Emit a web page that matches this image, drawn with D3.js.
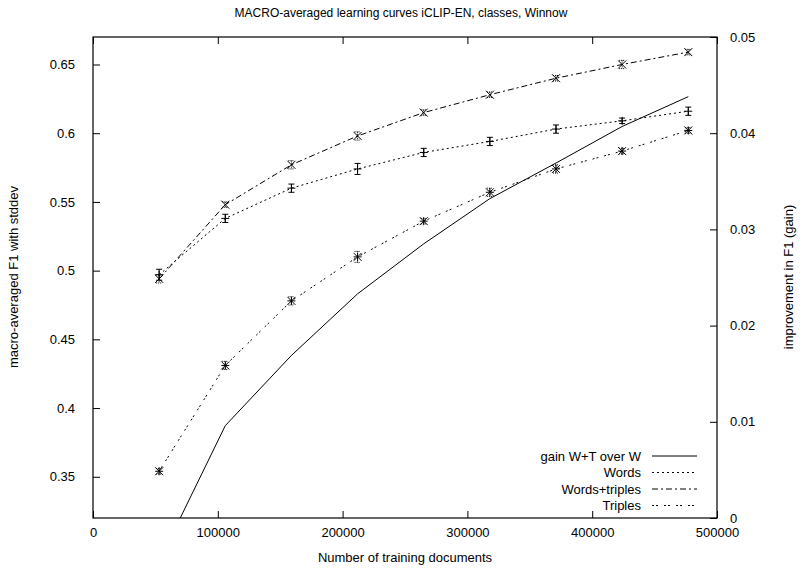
<!DOCTYPE html>
<html>
<head>
<meta charset="utf-8">
<script src="https://cdn.jsdelivr.net/npm/d3@7"></script>
<style>
body { margin: 0; background: #fff; }
text { font-family: "Liberation Sans", Arial, sans-serif; font-size: 13px; fill: #000; }
</style>
</head>
<body>
<div id="chart"></div>
<script>
// training set sizes
var docs = [53000, 106000, 159000, 212000, 265000, 318000, 371000, 424000, 477000];
// macro F1 per run
var words        = [0.497, 0.538, 0.560, 0.574, 0.586, 0.594, 0.603, 0.609, 0.616];
var wordsErr     = [0.004, 0.003, 0.003, 0.004, 0.003, 0.003, 0.003, 0.002, 0.003];
var wordsTriples = [0.494, 0.548, 0.577, 0.598, 0.615, 0.628, 0.640, 0.650, 0.659];
var wtErr        = [0.003, 0.002, 0.003, 0.003, 0.002, 0.002, 0.002, 0.003, 0.002];
var triples      = [0.354, 0.431, 0.478, 0.510, 0.536, 0.557, 0.574, 0.587, 0.602];
var triplesErr   = [0.002, 0.003, 0.003, 0.004, 0.002, 0.003, 0.003, 0.002, 0.002];
// gain W+T over W (right axis)
var gain = [-0.0045, 0.0096, 0.0169, 0.0233, 0.0285, 0.0332, 0.0369, 0.0407, 0.0438];

var xTicks = [0, 100000, 200000, 300000, 400000, 500000];
var yTicks = [0.35, 0.4, 0.45, 0.5, 0.55, 0.6, 0.65];
var y2Ticks = [0, 0.01, 0.02, 0.03, 0.04, 0.05];

var W = 802, H = 570;
// plot box (window.top is reserved, so prefixed names)
var pLeft = 93, pRight = 717, pTop = 37, pBottom = 518;

var svg = d3.select("#chart").append("svg").attr("width", W).attr("height", H);

var x = d3.scaleLinear().domain([0, 500000]).range([pLeft, pRight]);
var y = d3.scaleLinear().domain([0.32, 0.67]).range([pBottom, pTop]);
var y2 = d3.scaleLinear().domain([0, 0.05]).range([pBottom, pTop]);

svg.append("defs").append("clipPath").attr("id", "clip")
  .append("rect").attr("x", pLeft).attr("y", pTop).attr("width", pRight - pLeft).attr("height", pBottom - pTop);

// axes, ticks pointing inward
svg.append("g").attr("transform", "translate(0," + pBottom + ")")
  .call(d3.axisBottom(x).tickValues(xTicks).tickFormat(d3.format("d")).tickSizeInner(-7).tickSizeOuter(0).tickPadding(10));
svg.append("g").attr("transform", "translate(0," + pTop + ")")
  .call(d3.axisTop(x).tickValues(xTicks).tickFormat("").tickSizeInner(-7).tickSizeOuter(0));
svg.append("g").attr("transform", "translate(" + pLeft + ",0)")
  .call(d3.axisLeft(y).tickValues(yTicks).tickFormat(d3.format("~g")).tickSizeInner(-7).tickSizeOuter(0).tickPadding(18));
svg.append("g").attr("transform", "translate(" + pRight + ",0)")
  .call(d3.axisRight(y2).tickValues(y2Ticks).tickFormat(d3.format("~g")).tickSizeInner(-7).tickSizeOuter(0).tickPadding(13));
svg.selectAll(".domain").remove();
svg.selectAll(".tick line").attr("stroke", "#000");
svg.selectAll(".tick text").style("font-family", "Liberation Sans, Arial, sans-serif").style("font-size", "13px");

svg.append("rect").attr("x", pLeft).attr("y", pTop).attr("width", pRight - pLeft).attr("height", pBottom - pTop)
  .attr("fill", "none").attr("stroke", "#000").attr("stroke-width", 1.2);

// titles
svg.append("text").attr("x", 401).attr("y", 17).attr("text-anchor", "middle").style("font-size", "12px")
  .text("MACRO-averaged learning curves iCLIP-EN, classes, Winnow");
svg.append("text").attr("x", 405).attr("y", 562).attr("text-anchor", "middle")
  .text("Number of training documents");
svg.append("text").attr("transform", "translate(18,277) rotate(-90)").attr("text-anchor", "middle")
  .text("macro-averaged F1 with stddev");
svg.append("text").attr("transform", "translate(793,277) rotate(-90)").attr("text-anchor", "middle")
  .text("improvement in F1 (gain)");

var plot = svg.append("g").attr("clip-path", "url(#clip)");

var series = [
  {name: "gain W+T over W", vals: gain, err: null, sc: y2, dash: null, mark: null},
  {name: "Words", vals: words, err: wordsErr, sc: y, dash: "2,3", mark: "plus"},
  {name: "Words+triples", vals: wordsTriples, err: wtErr, sc: y, dash: "6,3,2,3", mark: "cross"},
  {name: "Triples", vals: triples, err: triplesErr, sc: y, dash: "2,2,2,6", mark: "star"}
];

series.forEach(function (s) {
  var line = d3.line().x(function (d, i) { return x(docs[i]); }).y(function (d) { return s.sc(d); });
  plot.append("path").datum(s.vals).attr("d", line)
    .attr("fill", "none").attr("stroke", "#000").attr("stroke-width", 1)
    .attr("stroke-dasharray", s.dash);

  if (!s.err) return;
  var g = plot.append("g");
  s.vals.forEach(function (v, i) {
    var cx = x(docs[i]), cy = s.sc(v);
    var hi = s.sc(v + s.err[i]), lo = s.sc(v - s.err[i]);
    var p = d3.path();
    // error bar with caps
    p.moveTo(cx, hi); p.lineTo(cx, lo);
    p.moveTo(cx - 3, hi); p.lineTo(cx + 3, hi);
    p.moveTo(cx - 3, lo); p.lineTo(cx + 3, lo);
    g.append("path").attr("d", p.toString()).attr("fill", "none").attr("stroke", "#000")
      .attr("stroke-width", 1).attr("stroke-dasharray", s.mark == "plus" ? null : "1,1");
    var m = d3.path(), r = 4;
    if (s.mark == "plus" || s.mark == "star") {
      m.moveTo(cx - r, cy); m.lineTo(cx + r, cy);
      m.moveTo(cx, cy - r); m.lineTo(cx, cy + r);
    }
    if (s.mark == "cross" || s.mark == "star") {
      m.moveTo(cx - r, cy - r); m.lineTo(cx + r, cy + r);
      m.moveTo(cx - r, cy + r); m.lineTo(cx + r, cy - r);
    }
    g.append("path").attr("d", m.toString()).attr("fill", "none").attr("stroke", "#000").attr("stroke-width", 1);
  });
});

// legend bottom right
var leg = svg.append("g");
series.forEach(function (s, i) {
  var ly = 456 + i * 16.5;
  leg.append("text").attr("x", 641).attr("y", ly + 4.5).attr("text-anchor", "end").text(s.name);
  leg.append("line").attr("x1", 652).attr("x2", 697).attr("y1", ly).attr("y2", ly)
    .attr("stroke", "#000").attr("stroke-width", 1).attr("stroke-dasharray", s.dash);
});
</script>
</body>
</html>
